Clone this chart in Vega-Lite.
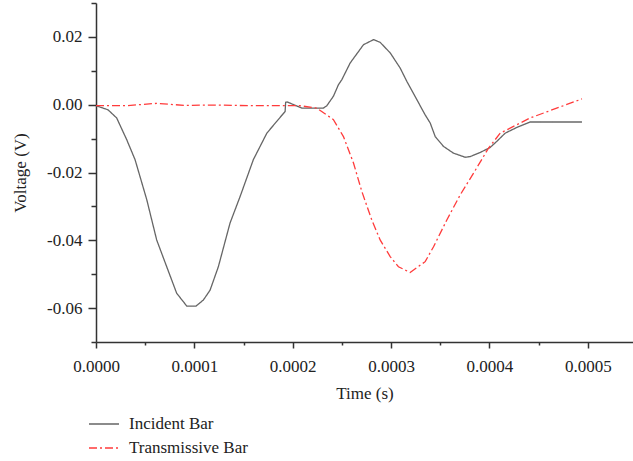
{
  "$schema": "https://vega.github.io/schema/vega-lite/v6.json",
  "autosize": {"type": "none"},
  "padding": {"left": 96, "top": 3, "right": 0, "bottom": 119},
  "width": 537,
  "height": 339,
  "background": "white",
  "config": {
    "view": {"stroke": null},
    "font": "Liberation Serif",
    "axis": {"grid": false, "domainColor": "#333333", "domainWidth": 1.5, "tickColor": "#333333", "tickWidth": 1.5, "labelColor": "#222222", "titleColor": "#222222", "labelFont": "Liberation Serif", "titleFont": "Liberation Serif", "labelFontSize": 17, "titleFontSize": 17, "titleFontWeight": "normal"},
    "legend": {"labelFont": "Liberation Serif", "labelFontSize": 17, "labelColor": "#222222"}
  },
  "data": {
    "values": [
      {"t": 0, "v": -0.0003, "s": "Incident Bar"},
      {"t": 0.0000122, "v": -0.0015, "s": "Incident Bar"},
      {"t": 0.000021, "v": -0.0039, "s": "Incident Bar"},
      {"t": 0.0000312, "v": -0.0103, "s": "Incident Bar"},
      {"t": 0.0000397, "v": -0.0162, "s": "Incident Bar"},
      {"t": 0.0000516, "v": -0.028, "s": "Incident Bar"},
      {"t": 0.0000617, "v": -0.0399, "s": "Incident Bar"},
      {"t": 0.0000719, "v": -0.0478, "s": "Incident Bar"},
      {"t": 0.000082, "v": -0.0556, "s": "Incident Bar"},
      {"t": 0.0000923, "v": -0.0594, "s": "Incident Bar"},
      {"t": 0.0001017, "v": -0.0594, "s": "Incident Bar"},
      {"t": 0.0001092, "v": -0.0576, "s": "Incident Bar"},
      {"t": 0.000116, "v": -0.0547, "s": "Incident Bar"},
      {"t": 0.0001244, "v": -0.0478, "s": "Incident Bar"},
      {"t": 0.0001363, "v": -0.0349, "s": "Incident Bar"},
      {"t": 0.0001465, "v": -0.0271, "s": "Incident Bar"},
      {"t": 0.00016, "v": -0.0162, "s": "Incident Bar"},
      {"t": 0.0001737, "v": -0.0084, "s": "Incident Bar"},
      {"t": 0.0001838, "v": -0.0049, "s": "Incident Bar"},
      {"t": 0.0001923, "v": -0.002, "s": "Incident Bar"},
      {"t": 0.0001928, "v": 0.0007, "s": "Incident Bar"},
      {"t": 0.0001945, "v": 0.0008, "s": "Incident Bar"},
      {"t": 0.0002093, "v": -0.001, "s": "Incident Bar"},
      {"t": 0.0002312, "v": -0.001, "s": "Incident Bar"},
      {"t": 0.0002347, "v": -0.0003, "s": "Incident Bar"},
      {"t": 0.0002414, "v": 0.0025, "s": "Incident Bar"},
      {"t": 0.0002465, "v": 0.0059, "s": "Incident Bar"},
      {"t": 0.00025, "v": 0.0074, "s": "Incident Bar"},
      {"t": 0.0002584, "v": 0.0123, "s": "Incident Bar"},
      {"t": 0.000272, "v": 0.0177, "s": "Incident Bar"},
      {"t": 0.0002822, "v": 0.0192, "s": "Incident Bar"},
      {"t": 0.0002889, "v": 0.0184, "s": "Incident Bar"},
      {"t": 0.0002991, "v": 0.0153, "s": "Incident Bar"},
      {"t": 0.0003093, "v": 0.0108, "s": "Incident Bar"},
      {"t": 0.000316, "v": 0.0069, "s": "Incident Bar"},
      {"t": 0.0003262, "v": 0.0015, "s": "Incident Bar"},
      {"t": 0.0003347, "v": -0.003, "s": "Incident Bar"},
      {"t": 0.0003398, "v": -0.0054, "s": "Incident Bar"},
      {"t": 0.0003449, "v": -0.0094, "s": "Incident Bar"},
      {"t": 0.0003533, "v": -0.0123, "s": "Incident Bar"},
      {"t": 0.0003635, "v": -0.0143, "s": "Incident Bar"},
      {"t": 0.0003754, "v": -0.0155, "s": "Incident Bar"},
      {"t": 0.0003805, "v": -0.0153, "s": "Incident Bar"},
      {"t": 0.0003906, "v": -0.0141, "s": "Incident Bar"},
      {"t": 0.0004008, "v": -0.0126, "s": "Incident Bar"},
      {"t": 0.0004076, "v": -0.0108, "s": "Incident Bar"},
      {"t": 0.000416, "v": -0.0084, "s": "Incident Bar"},
      {"t": 0.0004279, "v": -0.0067, "s": "Incident Bar"},
      {"t": 0.0004415, "v": -0.0051, "s": "Incident Bar"},
      {"t": 0.0004941, "v": -0.0051, "s": "Incident Bar"},
      {"t": 0, "v": -0.0003, "s": "Transmissive Bar"},
      {"t": 0.00003, "v": -0.0003, "s": "Transmissive Bar"},
      {"t": 0.0000617, "v": 0.0004, "s": "Transmissive Bar"},
      {"t": 0.00009, "v": -0.0002, "s": "Transmissive Bar"},
      {"t": 0.00012, "v": -0.0001, "s": "Transmissive Bar"},
      {"t": 0.00016, "v": -0.0003, "s": "Transmissive Bar"},
      {"t": 0.0002075, "v": -0.0003, "s": "Transmissive Bar"},
      {"t": 0.0002245, "v": -0.001, "s": "Transmissive Bar"},
      {"t": 0.0002414, "v": -0.0044, "s": "Transmissive Bar"},
      {"t": 0.0002516, "v": -0.0094, "s": "Transmissive Bar"},
      {"t": 0.0002618, "v": -0.0172, "s": "Transmissive Bar"},
      {"t": 0.0002703, "v": -0.0256, "s": "Transmissive Bar"},
      {"t": 0.0002804, "v": -0.034, "s": "Transmissive Bar"},
      {"t": 0.0002889, "v": -0.0399, "s": "Transmissive Bar"},
      {"t": 0.0002991, "v": -0.0448, "s": "Transmissive Bar"},
      {"t": 0.0003075, "v": -0.0478, "s": "Transmissive Bar"},
      {"t": 0.0003194, "v": -0.0495, "s": "Transmissive Bar"},
      {"t": 0.0003347, "v": -0.0463, "s": "Transmissive Bar"},
      {"t": 0.0003432, "v": -0.0419, "s": "Transmissive Bar"},
      {"t": 0.0003567, "v": -0.034, "s": "Transmissive Bar"},
      {"t": 0.0003703, "v": -0.0266, "s": "Transmissive Bar"},
      {"t": 0.0003839, "v": -0.0202, "s": "Transmissive Bar"},
      {"t": 0.0003991, "v": -0.0128, "s": "Transmissive Bar"},
      {"t": 0.000411, "v": -0.0084, "s": "Transmissive Bar"},
      {"t": 0.0004245, "v": -0.0064, "s": "Transmissive Bar"},
      {"t": 0.0004415, "v": -0.0039, "s": "Transmissive Bar"},
      {"t": 0.0004941, "v": 0.0017, "s": "Transmissive Bar"}
    ]
  },
  "mark": {"type": "line", "strokeWidth": 1.3, "clip": true},
  "encoding": {
    "x": {
      "field": "t", "type": "quantitative",
      "scale": {"domain": [0, 0.000546], "nice": false, "zero": false},
      "axis": {
        "title": "Time (s)",
        "titlePadding": 11,
        "values": [0, 0.00005, 0.0001, 0.00015, 0.0002, 0.00025, 0.0003, 0.00035, 0.0004, 0.00045, 0.0005],
        "tickSize": {"condition": {"test": "round(datum.value*20000) % 2 == 0", "value": 6}, "value": 3},
        "labelPadding": 10,
        "labelExpr": "round(datum.value*20000) % 2 == 0 ? format(datum.value, '.4f') : ''",
        "labelFlush": false,
        "labelOverlap": false
      }
    },
    "y": {
      "field": "v", "type": "quantitative",
      "scale": {"domain": [-0.07, 0.03], "nice": false, "zero": false},
      "axis": {
        "title": "Voltage (V)",
        "titlePadding": 17,
        "values": [-0.07, -0.06, -0.05, -0.04, -0.03, -0.02, -0.01, 0, 0.01, 0.02, 0.03],
        "tickSize": {"condition": {"test": "round(datum.value*100) % 2 == 0", "value": 8}, "value": 5},
        "labelPadding": 6,
        "labelExpr": "round(datum.value*100) % 2 == 0 && abs(datum.value) < 0.065 && datum.value < 0.025 ? replace(format(datum.value, '.2f'), '\u2212', '-') : ''",
        "labelFlush": false,
        "labelOverlap": false
      }
    },
    "color": {
      "field": "s", "type": "nominal",
      "scale": {"domain": ["Incident Bar", "Transmissive Bar"], "range": ["#666666", "#ff3b3b"]},
      "legend": {"title": null, "orient": "none", "legendX": -8, "legendY": 405, "symbolSize": 900, "symbolStrokeWidth": 1.3, "labelOffset": 9, "rowPadding": 0}
    },
    "strokeDash": {
      "field": "s", "type": "nominal",
      "scale": {"domain": ["Incident Bar", "Transmissive Bar"], "range": [[1, 0], [8, 3, 2, 3]]},
      "legend": {"title": null, "orient": "none", "legendX": -8, "legendY": 405, "symbolSize": 900, "symbolStrokeWidth": 1.3, "labelOffset": 9, "rowPadding": 0}
    }
  }
}
